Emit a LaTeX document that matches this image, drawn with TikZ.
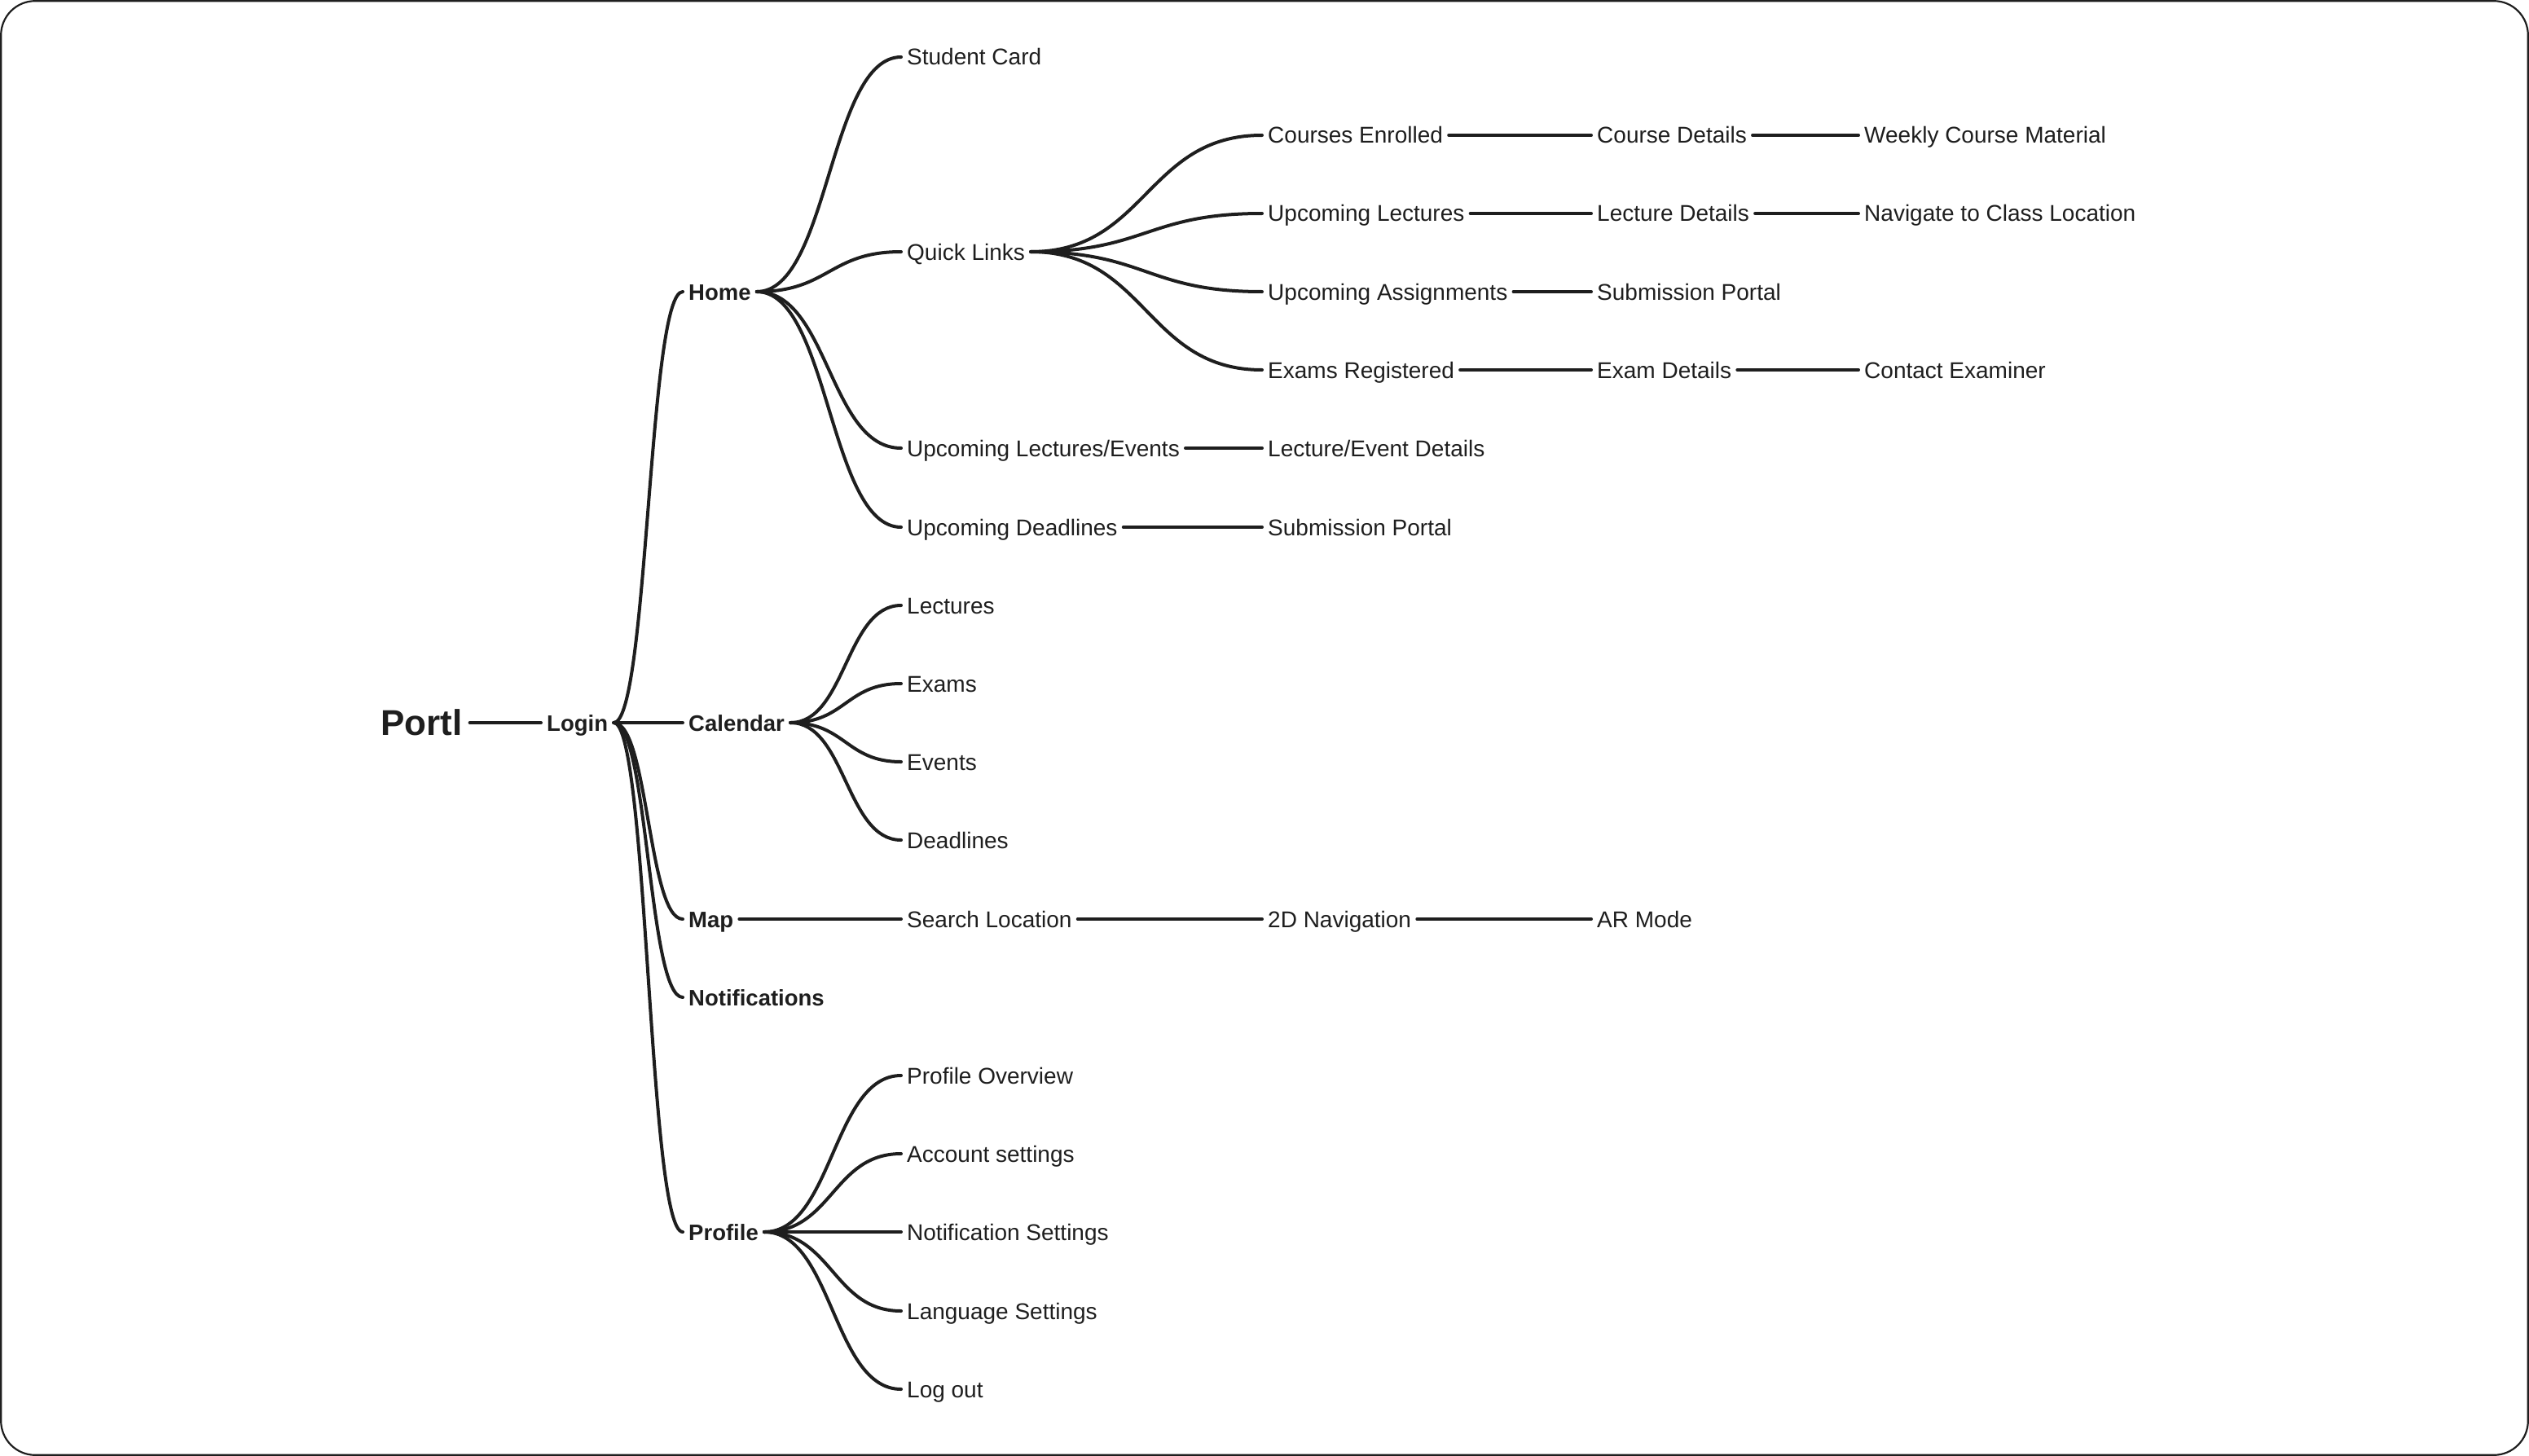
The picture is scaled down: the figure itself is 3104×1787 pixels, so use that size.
\documentclass[tikz,border=0pt]{standalone}
\usepackage{fontspec}
\setmainfont{Liberation Sans}
\usetikzlibrary{calc}
\definecolor{ink}{HTML}{1E1E1E}
\tikzset{
 lbl/.style={anchor=west, inner xsep=7pt, inner ysep=0pt, text height=20pt, text depth=0pt, font=\fontsize{28pt}{34pt}\selectfont, text=ink},
 hd/.style={lbl, font=\fontsize{27.5pt}{33pt}\selectfont\bfseries},
 ttl/.style={lbl, text height=31pt, inner xsep=9pt, font=\fontsize{44pt}{52pt}\selectfont\bfseries},
 link/.style={draw=ink, line width=4pt, line cap=round},
 frame/.style={draw=ink, line width=2.2pt, rounded corners=42pt}
}
\newcommand\conn[2]{\draw[link] let \p1=(#1.east), \p2=(#2.west) in (\p1) .. controls ({(\x1+\x2)/2},\y1) and ({(\x1+\x2)/2},\y2) .. (\p2);}
\begin{document}
\begin{tikzpicture}[x=1pt, y=-1pt]
\useasboundingbox (0,0) rectangle (3104,1787);
\draw[frame] (1.2,1.2) rectangle (3102.8,1785.8);
% root
\node[ttl] (portl) at (458,887) {Portl};
\node[hd] (login) at (664,887) {Login};
% level 1
\node[hd] (home) at (838,358) {Home};
\node[hd] (calendar) at (838,887) {Calendar};
\node[hd] (map) at (838,1128) {Map};
\node[hd] (notif) at (838,1224) {Notifications};
\node[hd] (profile) at (838,1512) {Profile};
% level 2
\node[lbl] (studcard) at (1106,70) {Student Card};
\node[lbl] (quick) at (1106,309) {Quick Links};
\node[lbl] (upclev) at (1106,550) {Upcoming Lectures/Events};
\node[lbl] (upcdead) at (1106,647) {Upcoming Deadlines};
\node[lbl] (lectures) at (1106,743) {Lectures};
\node[lbl] (exams) at (1106,839) {Exams};
\node[lbl] (events) at (1106,935) {Events};
\node[lbl] (deadlines) at (1106,1031) {Deadlines};
\node[lbl] (search) at (1106,1128) {Search Location};
\node[lbl] (profov) at (1106,1320) {Profile Overview};
\node[lbl] (acct) at (1106,1416) {Account settings};
\node[lbl] (notifset) at (1106,1512) {Notification Settings};
\node[lbl] (lang) at (1106,1609) {Language Settings};
\node[lbl] (logout) at (1106,1705) {Log out};
% level 3
\node[lbl] (courses) at (1549,166) {Courses Enrolled};
\node[lbl] (upclect) at (1549,262) {Upcoming Lectures};
\node[lbl] (upcassign) at (1549,358) {Upcoming Assignments};
\node[lbl] (examsreg) at (1549,454) {Exams Registered};
\node[lbl] (levdet) at (1549,550) {Lecture/Event Details};
\node[lbl] (subportA) at (1549,647) {Submission Portal};
\node[lbl] (nav2d) at (1549,1128) {2D Navigation};
% level 4
\node[lbl] (coursedet) at (1953,166) {Course Details};
\node[lbl] (lectdet) at (1953,262) {Lecture Details};
\node[lbl] (subportB) at (1953,358) {Submission Portal};
\node[lbl] (examdet) at (1953,454) {Exam Details};
\node[lbl] (armode) at (1953,1128) {AR Mode};
% level 5
\node[lbl] (weekly) at (2281,166) {Weekly Course Material};
\node[lbl] (navclass) at (2281,262) {Navigate to Class Location};
\node[lbl] (contact) at (2281,454) {Contact Examiner};
% connectors
\conn{portl}{login}
\foreach \c in {home,calendar,map,notif,profile} {\conn{login}{\c}}
\foreach \c in {studcard,quick,upclev,upcdead} {\conn{home}{\c}}
\foreach \c in {courses,upclect,upcassign,examsreg} {\conn{quick}{\c}}
\conn{courses}{coursedet}
\conn{coursedet}{weekly}
\conn{upclect}{lectdet}
\conn{lectdet}{navclass}
\conn{upcassign}{subportB}
\conn{examsreg}{examdet}
\conn{examdet}{contact}
\conn{upclev}{levdet}
\conn{upcdead}{subportA}
\foreach \c in {lectures,exams,events,deadlines} {\conn{calendar}{\c}}
\conn{map}{search}
\conn{search}{nav2d}
\conn{nav2d}{armode}
\foreach \c in {profov,acct,notifset,lang,logout} {\conn{profile}{\c}}
\end{tikzpicture}
\end{document}
